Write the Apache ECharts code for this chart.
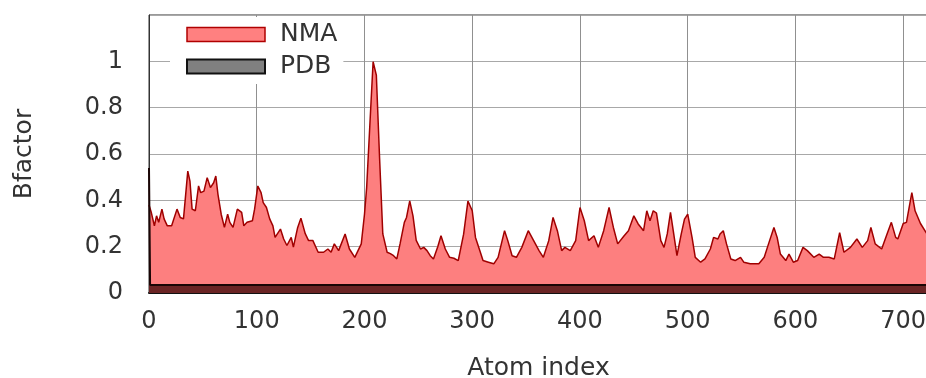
<!DOCTYPE html>
<html>
<head>
<meta charset="utf-8">
<script src="https://cdn.jsdelivr.net/npm/echarts@6/dist/echarts.min.js"></script>
<style>
html,body{margin:0;padding:0;background:#fff;}
#c{width:926px;height:378px;}
</style>
</head>
<body>
<div id="c"></div>
<script>
// Atom indices and NMA B-factor values
var nmaIdx = [0,2,5,7,9,12,14,17,21,26,29,32,36,38,40,43,46,48,51,54,57,60,62,64,67,70,73,75,78,82,86,88,91,96,98,101,104,106,109,112,115,117,122,125,128,132,134,138,141,145,148,152,157,162,166,169,172,176,182,186,191,197,200,202,205,208,211,214,217,221,224,227,230,233,237,239,242,245,248,252,255,258,261,264,268,271,275,279,283,287,292,296,300,303,307,310,315,320,324,330,333,337,341,346,352,357,362,366,371,375,379,383,386,391,396,400,404,408,413,417,422,427,431,435,441,445,450,454,459,462,465,468,471,475,478,481,484,487,490,494,497,500,504,507,512,516,521,524,528,530,533,536,540,544,549,552,558,566,571,575,580,583,586,591,594,598,602,607,611,617,622,626,631,636,641,645,651,657,662,667,670,674,680,685,689,693,695,700,703,708,711,716,722];
var nmaVal = [0.38,0.35,0.29,0.333,0.305,0.362,0.32,0.29,0.29,0.362,0.326,0.32,0.526,0.483,0.362,0.355,0.462,0.433,0.44,0.498,0.455,0.476,0.505,0.426,0.34,0.283,0.34,0.305,0.283,0.362,0.348,0.29,0.305,0.312,0.362,0.462,0.433,0.39,0.369,0.32,0.29,0.24,0.276,0.233,0.205,0.24,0.198,0.283,0.323,0.256,0.227,0.227,0.176,0.176,0.19,0.176,0.212,0.183,0.255,0.19,0.154,0.212,0.34,0.455,0.727,0.998,0.94,0.583,0.255,0.176,0.17,0.161,0.147,0.212,0.305,0.326,0.398,0.333,0.227,0.19,0.197,0.183,0.161,0.147,0.2,0.247,0.19,0.154,0.15,0.14,0.254,0.397,0.355,0.24,0.183,0.14,0.133,0.126,0.154,0.269,0.226,0.161,0.154,0.197,0.269,0.226,0.183,0.154,0.226,0.326,0.269,0.183,0.197,0.183,0.226,0.369,0.312,0.226,0.247,0.197,0.269,0.369,0.283,0.212,0.247,0.269,0.333,0.298,0.269,0.355,0.312,0.355,0.345,0.226,0.197,0.255,0.348,0.255,0.161,0.255,0.319,0.34,0.24,0.154,0.133,0.147,0.19,0.24,0.233,0.255,0.269,0.212,0.147,0.14,0.154,0.133,0.126,0.126,0.154,0.212,0.283,0.24,0.168,0.14,0.168,0.133,0.14,0.197,0.183,0.154,0.168,0.154,0.154,0.147,0.26,0.176,0.197,0.233,0.197,0.226,0.283,0.212,0.19,0.255,0.305,0.24,0.233,0.3,0.305,0.433,0.355,0.3,0.255];
// PDB B-factor values (flat near zero after the first atom)
var pdbIdx = [0,1,100,200,300,400,500,600,700,723];
var pdbVal = [0.54,0.035,0.035,0.035,0.035,0.035,0.035,0.035,0.035,0.035];
var seriesNames = ['NMA','PDB'];
var yTicks = [0,0.2,0.4,0.6,0.8,1];
var xTicks = [0,100,200,300,400,500,600,700];

function pairs(a,b){return a.map(function(x,i){return [x,b[i]];});}

var chart = echarts.init(document.getElementById('c'), null, {renderer:'canvas'});
var font = 'DejaVu Sans';
chart.setOption({
  animation:false,
  backgroundColor:'#ffffff',
  grid:{left:149,right:-2,top:15,bottom:85,containLabel:false,outerBoundsMode:'none',
        show:true,borderColor:'#333',borderWidth:1,backgroundColor:'transparent'},
  legend:{
    orient:'vertical',left:170,top:17,
    padding:[5,6,5,16],
    backgroundColor:'#ffffff',
    itemWidth:78,itemHeight:14,itemGap:7,
    textStyle:{fontFamily:font,fontSize:25,color:'#333',lineHeight:24,padding:[0,0,0,10]},
    data:[
      {name:seriesNames[0],icon:'rect',itemStyle:{color:'#ff8080',borderColor:'#b00000',borderWidth:1.5}},
      {name:seriesNames[1],icon:'rect',itemStyle:{color:'#808080',borderColor:'#111',borderWidth:2}}
    ]
  },
  xAxis:{
    type:'value',min:0,max:723,interval:100,
    name:'Atom index',nameLocation:'middle',nameGap:63,
    nameTextStyle:{fontFamily:font,fontSize:25,color:'#333'},
    axisLine:{show:true,onZero:false,lineStyle:{color:'#111',width:2}},
    axisTick:{show:false},
    axisLabel:{fontFamily:font,fontSize:24,color:'#333',margin:17,
      formatter:function(v){return xTicks.indexOf(v)>=0?String(v):'';}},
    splitLine:{show:true,lineStyle:{color:'#909090',width:1}}
  },
  yAxis:{
    type:'value',min:0,max:1.2,interval:0.2,
    name:'Bfactor',nameLocation:'middle',nameGap:112,nameRotate:90,
    nameTextStyle:{fontFamily:font,fontSize:25,color:'#333'},
    axisLine:{show:true,lineStyle:{color:'#333',width:1}},
    axisTick:{show:false},
    axisLabel:{fontFamily:font,fontSize:24,color:'#333',margin:26,
      formatter:function(v){var r=+v.toFixed(1);return yTicks.indexOf(r)>=0?String(r):'';}},
    splitLine:{show:true,lineStyle:{color:'#a8a8a8',width:1}}
  },
  series:[
    {name:seriesNames[0],type:'line',data:pairs(nmaIdx,nmaVal),showSymbol:false,symbol:'none',
     itemStyle:{color:'#ff8080'},
     lineStyle:{color:'#a00000',width:1.5},
     areaStyle:{color:'#fd7f7f',opacity:1},z:2},
    {name:seriesNames[1],type:'line',data:pairs(pdbIdx,pdbVal),showSymbol:false,symbol:'none',
     itemStyle:{color:'#808080'},
     lineStyle:{color:'#1a0505',width:2},
     areaStyle:{color:'#6a2424',opacity:1},z:3}
  ]
});
</script>
</body>
</html>
